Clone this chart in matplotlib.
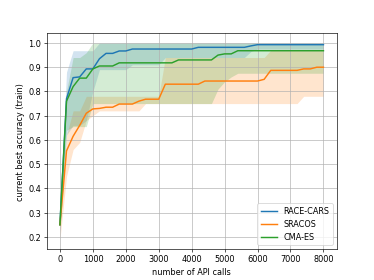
import matplotlib
matplotlib.use("Agg")
import matplotlib.pyplot as plt

# number of API calls (x grid)
calls = [0, 200, 400, 600, 800, 1000, 1200, 1400, 1600, 1800,
         2000, 2200, 2400, 2600, 2800, 3000, 3200, 3400, 3600, 3800,
         4000, 4200, 4400, 4600, 4800, 5000, 5200, 5400, 5600, 5800,
         6000, 6200, 6400, 6600, 6800, 7000, 7200, 7400, 7600, 7800, 8000]

race_mid = [0.25, 0.77, 0.857, 0.86, 0.893, 0.893, 0.935, 0.957, 0.957, 0.967,
            0.967] + [0.975] * 10 + [0.982] * 8 + [0.988] + [0.993] * 11
race_lo = [0.22, 0.62, 0.66, 0.66, 0.68, 0.80, 0.89, 0.89, 0.89, 0.89,
           0.89] + [0.91] * 5 + [0.94] * 13 + [0.965] + [0.975] * 11
race_hi = [0.28, 0.88, 0.968, 0.968, 0.968, 0.968] + [1.0] * 35

sracos_mid = [0.25, 0.555, 0.615, 0.66, 0.71, 0.728, 0.73, 0.735, 0.735, 0.748,
              0.748, 0.748, 0.76, 0.768, 0.768, 0.768] + [0.83] * 6 + [0.843] * 9 \
             + [0.85, 0.887] + [0.887] * 4 + [0.893, 0.893, 0.9, 0.9]
sracos_lo = [0.19, 0.45, 0.56, 0.59, 0.68, 0.70] + [0.72] * 7 + [0.75] * 24 + [0.78] * 4
sracos_hi = [0.28, 0.62, 0.72, 0.72, 0.78] + [0.78] * 11 + [0.94] * 16 + [0.97] * 9

cma_mid = [0.25, 0.76, 0.82, 0.855, 0.855, 0.893, 0.905, 0.905, 0.905] + [0.918] * 9 \
          + [0.93] * 6 + [0.95, 0.955, 0.955] + [0.968] * 14
cma_lo = [0.22, 0.64, 0.655, 0.655, 0.655] + [0.75] * 19 + [0.81, 0.84, 0.86] + [0.875] * 14
cma_hi = [0.28, 0.80, 0.94, 0.94, 0.96] + [1.0] * 36

series = [
    ("RACE-CARS", race_mid, race_lo, race_hi, "tab:blue"),
    ("SRACOS", sracos_mid, sracos_lo, sracos_hi, "tab:orange"),
    ("CMA-ES", cma_mid, cma_lo, cma_hi, "tab:green"),
]

fig, ax = plt.subplots(figsize=(6.4, 4.8), dpi=58.44)
for label, mid, lo, hi, color in series:
    ax.plot(calls, mid, color=color, label=label, linewidth=1.8)
    ax.fill_between(calls, lo, hi, color=color, alpha=0.2, linewidth=0)

ax.set_xlabel("number of API calls")
ax.set_ylabel("current best accuracy (train)")
ax.grid(True)
ax.legend(loc="lower right")

fig.savefig("out.png", dpi=58.44)
